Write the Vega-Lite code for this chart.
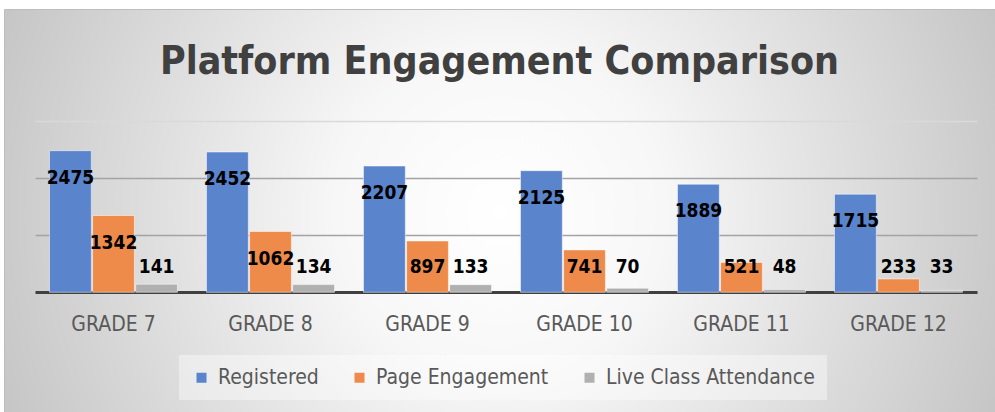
{
  "$schema": "https://vega.github.io/schema/vega-lite/v6.json",
  "autosize": {"type": "none"},
  "padding": {"left": 4, "top": 9, "right": 0, "bottom": 0},
  "width": 991,
  "height": 403,
  "background": "#ffffff",
  "config": {
    "font": "DejaVu Sans Condensed, sans-serif",
    "view": {
      "fill": {
        "gradient": "radial",
        "x1": 0.5, "y1": 0.5, "r1": 0,
        "x2": 0.5, "y2": 0.5, "r2": 0.55,
        "stops": [
          {"offset": 0, "color": "#ffffff"},
          {"offset": 0.3, "color": "#f7f7f7"},
          {"offset": 1, "color": "#c4c4c4"}
        ]
      },
      "stroke": "#bdbdbd"
    }
  },
  "title": {
    "text": "Platform Engagement Comparison",
    "fontSize": 39,
    "fontWeight": "bold",
    "color": "#404040",
    "anchor": "middle",
    "offset": -73
  },
  "data": {
    "values": [
      {"grade": "GRADE 7", "series": "Registered", "value": 2475},
      {"grade": "GRADE 7", "series": "Page Engagement", "value": 1342},
      {"grade": "GRADE 7", "series": "Live Class Attendance", "value": 141},
      {"grade": "GRADE 8", "series": "Registered", "value": 2452},
      {"grade": "GRADE 8", "series": "Page Engagement", "value": 1062},
      {"grade": "GRADE 8", "series": "Live Class Attendance", "value": 134},
      {"grade": "GRADE 9", "series": "Registered", "value": 2207},
      {"grade": "GRADE 9", "series": "Page Engagement", "value": 897},
      {"grade": "GRADE 9", "series": "Live Class Attendance", "value": 133},
      {"grade": "GRADE 10", "series": "Registered", "value": 2125},
      {"grade": "GRADE 10", "series": "Page Engagement", "value": 741},
      {"grade": "GRADE 10", "series": "Live Class Attendance", "value": 70},
      {"grade": "GRADE 11", "series": "Registered", "value": 1889},
      {"grade": "GRADE 11", "series": "Page Engagement", "value": 521},
      {"grade": "GRADE 11", "series": "Live Class Attendance", "value": 48},
      {"grade": "GRADE 12", "series": "Registered", "value": 1715},
      {"grade": "GRADE 12", "series": "Page Engagement", "value": 233},
      {"grade": "GRADE 12", "series": "Live Class Attendance", "value": 33}
    ]
  },
  "encoding": {
    "x": {
      "field": "grade",
      "type": "nominal",
      "sort": ["GRADE 7", "GRADE 8", "GRADE 9", "GRADE 10", "GRADE 11", "GRADE 12"],
      "scale": {"range": [31, 973], "paddingInner": 0.185, "paddingOuter": 0.0925},
      "axis": {
        "title": null,
        "orient": "bottom",
        "offset": -120,
        "ticks": false,
        "domainColor": "#404040",
        "domainWidth": 3,
        "labelAngle": 0,
        "labelFontSize": 21,
        "labelColor": "#595959",
        "labelPadding": 21
      }
    },
    "xOffset": {
      "field": "series",
      "type": "nominal",
      "sort": ["Registered", "Page Engagement", "Live Class Attendance"],
      "scale": {"paddingInner": 0.03}
    }
  },
  "layer": [
    {
      "mark": {"type": "bar", "stroke": "#ffffff", "strokeOpacity": 0.5, "strokeWidth": 1},
      "encoding": {
        "y": {
          "field": "value",
          "type": "quantitative",
          "scale": {"domain": [-2093, 4952], "nice": false, "zero": false},
          "axis": {
            "values": [1000, 2000, 3000],
            "labels": false,
            "ticks": false,
            "domain": false,
            "title": null,
            "grid": true,
            "gridColor": {"condition": {"test": "datum.value === 3000", "value": "#d9d9d9"}, "value": "#a3a3a3"},
            "gridWidth": 1.3
          }
        },
        "color": {
          "field": "series",
          "type": "nominal",
          "sort": ["Registered", "Page Engagement", "Live Class Attendance"],
          "scale": {
            "domain": ["Registered", "Page Engagement", "Live Class Attendance"],
            "range": ["#5A84CC", "#EF8B4A", "#B0B0B0"]
          },
          "legend": {
            "title": null,
            "orient": "none",
            "legendX": 175,
            "legendY": 346,
            "direction": "horizontal",
            "symbolType": "square",
            "symbolSize": 100,
            "symbolStrokeWidth": 0,
            "labelFontSize": 21,
            "labelColor": "#595959",
            "labelOffset": 6,
            "labelLimit": 400,
            "columnPadding": 30,
            "fillColor": "rgba(255,255,255,0.4)",
            "padding": 12
          }
        }
      }
    },
    {
      "transform": [{"filter": "datum.value >= 916"}],
      "mark": {"type": "text", "dy": 27, "fontSize": 19, "fontWeight": "bold", "color": "#000000", "baseline": "middle"},
      "encoding": {
        "y": {"field": "value", "type": "quantitative"},
        "text": {"field": "value", "type": "quantitative"}
      }
    },
    {
      "transform": [{"filter": "datum.value < 916"}],
      "mark": {"type": "text", "fontSize": 19, "fontWeight": "bold", "color": "#000000", "baseline": "middle"},
      "encoding": {
        "y": {"datum": 442, "type": "quantitative"},
        "text": {"field": "value", "type": "quantitative"}
      }
    }
  ]
}
